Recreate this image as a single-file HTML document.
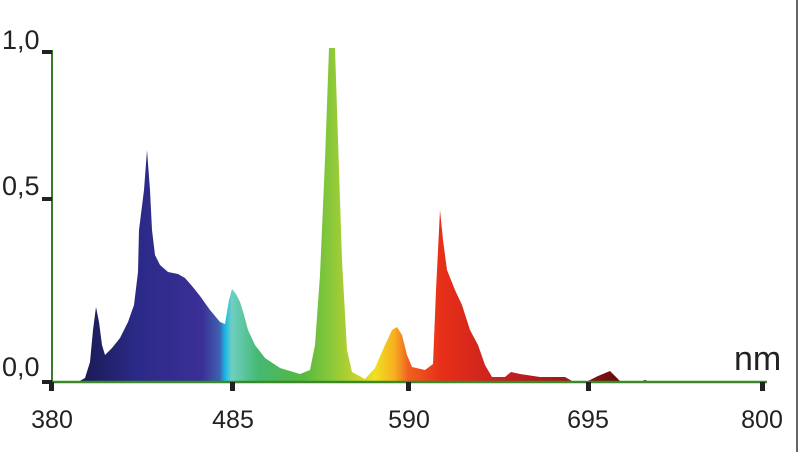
<!DOCTYPE html>
<html><head><meta charset="utf-8"><style>
html,body{margin:0;padding:0;background:#fff;}
svg{display:block;}
text{font-family:"Liberation Sans",sans-serif;fill:#222;}
</style></head><body>
<svg width="800" height="452" viewBox="0 0 800 452">
<defs>
<linearGradient id="g" gradientUnits="userSpaceOnUse" x1="52" y1="0" x2="765" y2="0">
<stop offset="0" stop-color="#151530"/>
<stop offset="0.06" stop-color="#1e1e60"/>
<stop offset="0.12" stop-color="#2b2a88"/>
<stop offset="0.21" stop-color="#3a2f95"/>
<stop offset="0.235" stop-color="#3f60b0"/>
<stop offset="0.243" stop-color="#1ab8e8"/>
<stop offset="0.252" stop-color="#6fcfc2"/>
<stop offset="0.29" stop-color="#45b872"/>
<stop offset="0.35" stop-color="#55b840"/>
<stop offset="0.39" stop-color="#88c83a"/>
<stop offset="0.42" stop-color="#b8d030"/>
<stop offset="0.453" stop-color="#f0e020"/>
<stop offset="0.48" stop-color="#f7b020"/>
<stop offset="0.50" stop-color="#f06020"/>
<stop offset="0.545" stop-color="#e83018"/>
<stop offset="0.63" stop-color="#c82020"/>
<stop offset="0.72" stop-color="#a01818"/>
<stop offset="0.78" stop-color="#701010"/>
<stop offset="0.84" stop-color="#400808"/>
<stop offset="1" stop-color="#400808"/>
</linearGradient>
</defs>
<line x1="797" y1="0" x2="797" y2="452" stroke="#333" stroke-width="1.5"/>
<polygon fill="url(#g)" points="52,382 78,382 85,378 90,362 93,330 96,307 99,322 102,345 105,355 112,348 120,338 128,322 134,305 138,272 139,230 144,190 147,150 150,190 152,230 155,255 160,265 168,272 178,274 185,278 192,286 200,296 210,310 220,322 225,324 229,300 232,289 236,294 240,302 244,315 248,330 255,345 265,358 280,368 300,374 310,370 315,345 320,275 325,160 329,48 335,48 338,140 342,260 347,350 352,372 365,379 375,368 385,345 392,330 397,327 402,335 407,355 412,367 425,370 433,364 436,290 440,210 443,240 447,270 455,290 462,305 470,330 478,345 485,365 492,377 505,377 511,372 520,374 540,377 565,377 572,381 586,382 598,376 610,371 616,377 621,382 640,382 645,380 650,382 765,382"/>
<line x1="52" y1="50" x2="52" y2="383" stroke="#3a7a2a" stroke-width="2"/>
<line x1="52" y1="382" x2="767" y2="382" stroke="#3a8a2a" stroke-width="2.5"/>
<g fill="#222">
<rect x="42" y="50" width="10" height="4"/>
<rect x="42" y="197" width="10" height="4"/>
<rect x="42" y="380" width="10" height="4"/>
<rect x="49" y="382" width="5" height="9"/>
<rect x="230" y="382" width="5" height="9"/>
<rect x="406" y="382" width="5" height="9"/>
<rect x="586" y="382" width="5" height="9"/>
<rect x="760" y="382" width="5" height="9"/>
</g>
<g font-size="27">
<text x="2" y="49">1,0</text>
<text x="2" y="195">0,5</text>
<text x="2" y="376">0,0</text>
</g>
<g font-size="25">
<text x="52" y="428" text-anchor="middle">380</text>
<text x="233" y="428" text-anchor="middle">485</text>
<text x="409" y="428" text-anchor="middle">590</text>
<text x="588" y="428" text-anchor="middle">695</text>
<text x="762" y="428" text-anchor="middle">800</text>
</g>
<text x="734" y="370" font-size="34">nm</text>
</svg>
</body></html>
